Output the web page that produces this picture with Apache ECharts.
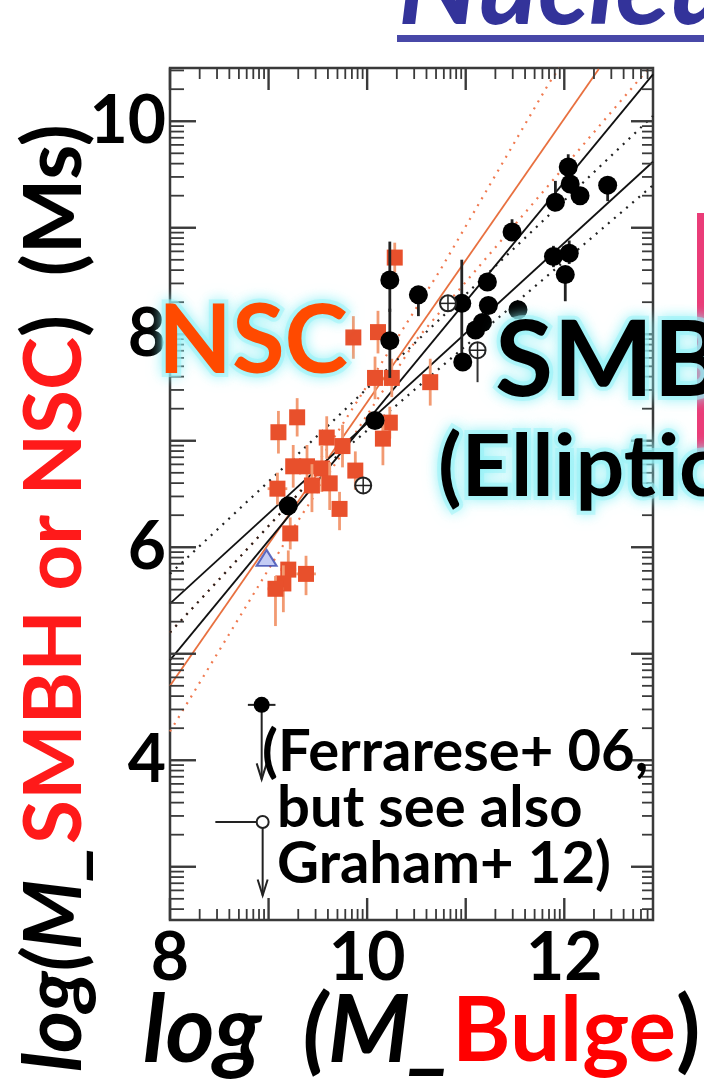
<!DOCTYPE html>
<html>
<head>
<meta charset="utf-8">
<script src="https://cdn.jsdelivr.net/npm/echarts@6/dist/echarts.min.js"></script>
<style>
  html, body { margin: 0; padding: 0; background: #fff; }
  #chart { width: 704px; height: 1085px; }
</style>
</head>
<body>
<div id="chart"></div>
<script>
// ---- axis ranges and tick labels ----
var xRange = [8, 12.9];
var yRange = [2.5, 10.5];
var xTickLabels = [8, 10, 12];
var yTickLabels = [4, 6, 8, 10];

// ---- SMBH (black filled) : [logMbulge, logM, errDown, errUp] ----
var smbhPoints = [
  [12.04, 9.57, 0.10, 0.12],
  [12.06, 9.41, 0.08, 0.08],
  [11.91, 9.24, 0.08, 0.20],
  [12.16, 9.30, 0.08, 0.08],
  [12.44, 9.40, 0.15, 0.06],
  [11.47, 8.96, 0.08, 0.12],
  [11.89, 8.73, 0.10, 0.10],
  [12.05, 8.76, 0.10, 0.12],
  [12.01, 8.56, 0.25, 0.06],
  [10.23, 8.51, 0.30, 0.36],
  [10.52, 8.37, 0.20, 0.06],
  [10.96, 8.29, 0.50, 0.41],
  [11.22, 8.49, 0.08, 0.08],
  [11.23, 8.27, 0.08, 0.08],
  [11.17, 8.11, 0.08, 0.08],
  [11.10, 8.04, 0.08, 0.08],
  [11.53, 8.23, 0.06, 0.06],
  [10.23, 7.94, 0.35, 0.30],
  [10.97, 7.74, 0.06, 0.06],
  [10.08, 7.19, 0.06, 0.06],
  [9.20, 6.39, 0.06, 0.06]
];

// ---- SMBH (open circles with cross) : [x, y, errDown, errUp] ----
var smbhOpen = [
  [10.82, 8.29, 0.05, 0.05],
  [11.12, 7.85, 0.30, 0.05],
  [9.96, 6.58, 0.05, 0.05]
];

// ---- upper limits : [x, y, arrowTip, xErrLeft, xErrRight, filled] ----
var upperLimits = [
  [8.93, 4.52, 3.82, 0.14, 0.14, 1],
  [8.94, 3.42, 2.73, 0.48, 0.00, 0]
];

// ---- nuclear star clusters : [x, y, errDown, errUp, xErr] ----
var nscPoints = [
  [10.28, 8.72, 0.14, 0.14, 0],
  [9.86, 7.97, 0.20, 0.20, 0],
  [10.11, 8.02, 0.20, 0.20, 0],
  [10.08, 7.59, 0.20, 0.20, 0],
  [10.25, 7.59, 0.18, 0.18, 0],
  [10.64, 7.55, 0.22, 0.22, 0],
  [9.29, 7.22, 0.18, 0.18, 0],
  [9.10, 7.08, 0.20, 0.20, 0],
  [9.59, 7.03, 0.20, 0.20, 0],
  [10.23, 7.17, 0.15, 0.15, 0],
  [10.16, 7.02, 0.25, 0.20, 0],
  [9.25, 6.76, 0.20, 0.20, 0],
  [9.39, 6.76, 0.20, 0.20, 0],
  [9.54, 6.74, 0.22, 0.22, 0],
  [9.75, 6.95, 0.20, 0.20, 0],
  [9.88, 6.72, 0.18, 0.18, 0],
  [9.09, 6.55, 0.15, 0.15, 0.10],
  [9.44, 6.58, 0.25, 0.20, 0],
  [9.62, 6.60, 0.25, 0.20, 0],
  [9.72, 6.36, 0.20, 0.16, 0],
  [9.22, 6.13, 0.15, 0.15, 0],
  [9.20, 5.79, 0.18, 0.18, 0.08],
  [9.38, 5.75, 0.20, 0.17, 0.10],
  [9.15, 5.66, 0.27, 0.17, 0],
  [9.07, 5.61, 0.35, 0.12, 0.08]
];

// ---- the Milky Way nucleus (blue triangle) ----
var mwPoint = [[8.98, 5.90]];

// ---- fitted relations and confidence bands (read points) ----
var nscFit = [[8.0, 4.70], [12.35, 10.49]];
var nscBandUpper = [[8.0, 5.20], [9.3, 6.50], [10.16, 7.75], [10.74, 8.60], [11.84, 10.35], [11.95, 10.5]];
var nscBandLower = [[8.0, 4.27], [9.3, 6.25], [10.5, 7.95], [12.85, 10.49]];
var smbhFitSteep = [[8.0, 4.94], [12.9, 10.44]];
var smbhFitFlat = [[8.0, 5.47], [12.9, 9.62]];
var smbhBandUpper = [[8.0, 5.75], [9.5, 7.05], [12.9, 10.05]];
var smbhBandLower = [[8.0, 5.20], [9.5, 6.70], [12.9, 9.40]];

// log-style minor tick positions inside each unit interval
function minorTicks(lo, hi) {
  var out = [];
  for (var d = Math.floor(lo); d < hi; d++) {
    for (var k = 2; k <= 9; k++) {
      var v = d + Math.log10(k);
      if (v > lo && v < hi) out.push(v);
    }
  }
  return out;
}
function majorTicks(lo, hi) {
  var out = [];
  for (var v = Math.ceil(lo); v <= hi; v++) out.push(v);
  return out;
}

// tick records: [value, dim (0 = x, 1 = y), major (1/0)]
var tickData = [];
majorTicks(xRange[0], xRange[1]).forEach(function (v) { tickData.push([v, 0, 1]); });
minorTicks(xRange[0], xRange[1]).forEach(function (v) { tickData.push([v, 0, 0]); });
majorTicks(yRange[0], yRange[1]).forEach(function (v) { tickData.push([v, 1, 1]); });
minorTicks(yRange[0], yRange[1]).forEach(function (v) { tickData.push([v, 1, 0]); });

var frameColor = '#3a3a3a';
var labelFont = 'Lato';

function lineSeries(data, color, type, width) {
  return {
    type: 'line', data: data, symbol: 'none', silent: true, z: 2,
    lineStyle: { color: color, width: width || 1.6, type: type },
    clip: true
  };
}

// vertical / horizontal error bars plus a marker
function errorSeries(points, opts) {
  return {
    type: 'custom', z: opts.z || 5, data: points, clip: true,
    renderItem: function (params, api) {
      var x = api.value(0), y = api.value(1);
      var c = api.coord([x, y]);
      var lo = api.coord([x, y - api.value(2)]);
      var hi = api.coord([x, y + api.value(3)]);
      var kids = [{
        type: 'line', shape: { x1: c[0], y1: lo[1], x2: c[0], y2: hi[1] },
        style: { stroke: opts.barColor, lineWidth: opts.barWidth }
      }];
      if (opts.xerr) {
        var xe = api.value(4);
        if (xe > 0) {
          var l = api.coord([x - xe, y]), r = api.coord([x + xe, y]);
          kids.push({ type: 'line', shape: { x1: l[0], y1: c[1], x2: r[0], y2: c[1] },
                      style: { stroke: opts.barColor, lineWidth: opts.barWidth } });
        }
      }
      kids.push(opts.marker(c));
      return { type: 'group', children: kids };
    }
  };
}

var series = [
  // inward ticks on all four sides of the frame
  {
    type: 'custom', z: 3, data: tickData, clip: false, silent: true,
    renderItem: function (params, api) {
      var v = api.value(0), dim = api.value(1), major = api.value(2) === 1;
      var st = { stroke: frameColor, lineWidth: major ? 2.4 : 1.8 };
      if (dim === 0) {
        var b = api.coord([v, yRange[0]]), t = api.coord([v, yRange[1]]);
        var L = major ? 22 : 11;
        return { type: 'group', children: [
          { type: 'line', shape: { x1: b[0], y1: b[1], x2: b[0], y2: b[1] - L }, style: st },
          { type: 'line', shape: { x1: t[0], y1: t[1], x2: t[0], y2: t[1] + L }, style: st }
        ] };
      }
      var l = api.coord([xRange[0], v]), r = api.coord([xRange[1], v]);
      var LL = major ? 26 : 14, LR = major ? 22 : 11;
      return { type: 'group', children: [
        { type: 'line', shape: { x1: l[0], y1: l[1], x2: l[0] + LL, y2: l[1] }, style: st },
        { type: 'line', shape: { x1: r[0], y1: r[1], x2: r[0] - LR, y2: r[1] }, style: st }
      ] };
    }
  },
  lineSeries(nscBandUpper, '#f07a50', [2, 6], 2.2),
  lineSeries(nscBandLower, '#f07a50', [2, 6], 2.2),
  lineSeries(nscFit, '#e8703f', 'solid', 1.8),
  lineSeries(smbhBandUpper, '#222', [2, 6], 2.2),
  lineSeries(smbhBandLower, '#222', [2, 6], 2.2),
  lineSeries(smbhFitSteep, '#111', 'solid', 1.8),
  lineSeries(smbhFitFlat, '#111', 'solid', 1.8),
  errorSeries(nscPoints, {
    barColor: '#f29a72', barWidth: 2.8, xerr: true, z: 4,
    marker: function (c) {
      return { type: 'rect', shape: { x: c[0] - 8, y: c[1] - 8, width: 16, height: 16 },
               style: { fill: '#e8502c' } };
    }
  }),
  errorSeries(smbhPoints, {
    barColor: '#222', barWidth: 2.8, z: 6,
    marker: function (c) {
      return { type: 'circle', shape: { cx: c[0], cy: c[1], r: 9.5 }, style: { fill: '#000' } };
    }
  }),
  errorSeries(smbhOpen, {
    barColor: '#333', barWidth: 2, z: 6,
    marker: function (c) {
      return { type: 'group', children: [
        { type: 'circle', shape: { cx: c[0], cy: c[1], r: 8 },
          style: { fill: '#fff', stroke: '#222', lineWidth: 2 } },
        { type: 'line', shape: { x1: c[0] - 8, y1: c[1], x2: c[0] + 8, y2: c[1] },
          style: { stroke: '#222', lineWidth: 1.5 } },
        { type: 'line', shape: { x1: c[0], y1: c[1] - 8, x2: c[0], y2: c[1] + 8 },
          style: { stroke: '#222', lineWidth: 1.5 } }
      ] };
    }
  }),
  {
    type: 'custom', z: 6, data: upperLimits, clip: true,
    renderItem: function (params, api) {
      var x = api.value(0), y = api.value(1);
      var c = api.coord([x, y]);
      var tip = api.coord([x, api.value(2)]);
      var l = api.coord([x - api.value(3), y]);
      var r = api.coord([x + api.value(4), y]);
      var filled = api.value(5) === 1;
      return { type: 'group', children: [
        { type: 'line', shape: { x1: l[0], y1: c[1], x2: r[0], y2: c[1] },
          style: { stroke: '#222', lineWidth: 2 } },
        { type: 'line', shape: { x1: c[0], y1: c[1], x2: c[0], y2: tip[1] },
          style: { stroke: '#222', lineWidth: 2 } },
        { type: 'polyline', shape: { points: [[c[0] - 5, tip[1] - 16], [c[0], tip[1]], [c[0] + 5, tip[1] - 16]] },
          style: { stroke: '#222', lineWidth: 2, fill: null } },
        { type: 'circle', shape: { cx: c[0], cy: c[1], r: filled ? 8 : 6 },
          style: filled ? { fill: '#000' } : { fill: '#fff', stroke: '#222', lineWidth: 2 } }
      ] };
    }
  },
  {
    type: 'scatter', data: mwPoint, symbol: 'triangle', symbolSize: [20, 16], z: 6,
    itemStyle: { color: 'rgba(120,140,230,0.55)', borderColor: '#3a49b0', borderWidth: 2 }
  }
];

var glowText = function (extra) {
  return Object.assign({
    stroke: 'rgba(160,242,248,0.55)', lineWidth: 8,
    textShadowColor: '#8af0f6', textShadowBlur: 14
  }, extra);
};

var chart = echarts.init(document.getElementById('chart'), null, { renderer: 'canvas' });
chart.setOption({
  animation: false,
  backgroundColor: '#fff',
  grid: { left: 170, top: 68, width: 483, height: 852, show: true,
          borderColor: frameColor, borderWidth: 2.5, backgroundColor: 'transparent' },
  xAxis: {
    type: 'value', min: xRange[0], max: xRange[1],
    splitLine: { show: false }, axisLine: { show: false }, axisTick: { show: false },
    axisLabel: { customValues: xTickLabels, color: '#000', fontFamily: labelFont,
                 fontWeight: 'bold', fontSize: 66, margin: 6 }
  },
  yAxis: {
    type: 'value', min: yRange[0], max: yRange[1],
    splitLine: { show: false }, axisLine: { show: false }, axisTick: { show: false },
    axisLabel: { customValues: yTickLabels, color: '#000', fontFamily: labelFont,
                 fontWeight: 'bold', fontSize: 66, margin: 4, padding: [16, 0, 0, 0] }
  },
  series: series,
  graphic: [
    // heading, cut by the top edge
    { type: 'text', x: 398, y: 44, z: 20,
      style: { text: 'Nucleus', fill: '#33339a', font: 'italic bold 112px Lato', verticalAlign: 'bottom' } },
    { type: 'rect', shape: { x: 397, y: 35, width: 310, height: 7 }, style: { fill: '#4848a8' }, z: 20 },
    // pink box edge on the right
    { type: 'rect', shape: { x: 697, y: 213, width: 10, height: 243 }, style: { fill: '#ea3c78' }, z: 20 },
    // y-axis title
    { type: 'text', z: 20, x: 55, y: 1072, rotation: Math.PI / 2,
      style: {
        text: '{i|log(M_}{r|SMBH or NSC}{b|)  (Ms)}',
        verticalAlign: 'middle', align: 'left',
        rich: {
          i: { font: 'italic bold 80px Lato', fill: '#000' },
          r: { font: 'bold 80px Lato', fill: '#ff1a1a' },
          b: { font: 'bold 80px Lato', fill: '#000' }
        }
      } },
    // x-axis title
    { type: 'text', z: 20, x: 143, y: 1032,
      style: {
        text: '{i|log  (M_}{r|Bulge}{b|)}',
        verticalAlign: 'middle', align: 'left',
        rich: {
          i: { font: 'italic bold 94px Lato', fill: '#000' },
          r: { font: 'bold 89px Lato', fill: '#ff0000' },
          b: { font: 'bold 89px Lato', fill: '#000' }
        }
      } },
    // overlay labels
    { type: 'text', z: 20, x: 158, y: 342,
      style: glowText({ text: 'NSC', font: 'bold 96px Lato', fill: '#ff4a00', verticalAlign: 'middle' }) },
    { type: 'text', z: 20, x: 495, y: 362,
      style: glowText({ text: 'SMBH', font: 'bold 106px Lato', fill: '#000', verticalAlign: 'middle' }) },
    { type: 'text', z: 20, x: 438, y: 468,
      style: glowText({ text: '(Ellipticals)', font: 'bold 86px Lato', fill: '#000', verticalAlign: 'middle' }) },
    { type: 'text', z: 20, x: 262, y: 752,
      style: { text: '(Ferrarese+ 06,', font: 'bold 58px Lato', fill: '#000', verticalAlign: 'middle' } },
    { type: 'text', z: 20, x: 277, y: 808,
      style: { text: 'but see also', font: 'bold 58px Lato', fill: '#000', verticalAlign: 'middle' } },
    { type: 'text', z: 20, x: 277, y: 864,
      style: { text: 'Graham+ 12)', font: 'bold 58px Lato', fill: '#000', verticalAlign: 'middle' } }
  ]
});
</script>
</body>
</html>
